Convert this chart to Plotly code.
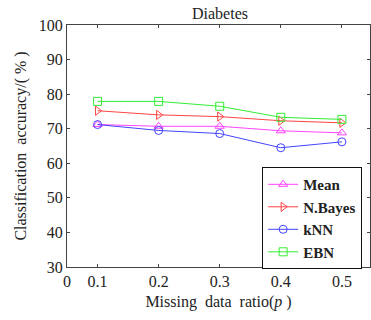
import plotly.graph_objects as go

x_vals = [0.1, 0.2, 0.3, 0.4, 0.5]
mean_acc = [71.2, 70.7, 70.7, 69.4, 68.8]
nbayes_acc = [75.2, 74.0, 73.5, 72.3, 71.7]
knn_acc = [71.2, 69.5, 68.6, 64.5, 66.2]
ebn_acc = [77.9, 77.9, 76.5, 73.3, 72.7]

x_tickvals = [0.05, 0.1, 0.2, 0.3, 0.4, 0.5]
x_ticktext = ["0", "0.1", "0.2", "0.3", "0.4", "0.5"]
y_tickvals = [30, 40, 50, 60, 70, 80, 90, 100]

series = [
    ("Mean", mean_acc, "#ff44ff", "triangle-up-open"),
    ("N.Bayes", nbayes_acc, "#ff4444", "triangle-right-open"),
    ("kNN", knn_acc, "#4444ff", "circle-open"),
    ("EBN", ebn_acc, "#33ee33", "square-open"),
]

font_family = "Times New Roman"

fig = go.Figure()
for name, ys, color, sym in series:
    fig.add_trace(go.Scatter(
        x=x_vals, y=ys, name=name, mode="lines+markers",
        line=dict(color=color, width=1),
        marker=dict(symbol=sym, size=8, color=color, line=dict(width=1, color=color)),
    ))

axis_common = dict(
    showline=True, linecolor="#444", linewidth=1, mirror="ticks",
    ticks="inside", ticklen=3, tickcolor="#444", showgrid=False, zeroline=False,
    tickfont=dict(family=font_family, size=16, color="#222"),
)

fig.update_layout(
    width=371, height=320,
    margin=dict(l=67, r=1, t=25, b=53),
    paper_bgcolor="white", plot_bgcolor="white",
    title=dict(text="Diabetes", x=0.593, xanchor="center", y=0.958, yanchor="middle",
               font=dict(family=font_family, size=16, color="#222")),
    font=dict(family=font_family, color="#222"),
    xaxis=dict(range=[0.05, 0.546], tickvals=x_tickvals, ticktext=x_ticktext,
               title=dict(text="Missing\u00a0\u00a0data\u00a0\u00a0ratio(<i>p</i>\u00a0)", standoff=6,
                          font=dict(family=font_family, size=16, color="#222")),
               **axis_common),
    yaxis=dict(range=[30, 100], tickvals=y_tickvals,
               title=dict(text="Classification\u00a0\u00a0accuracy/(\u00a0%\u00a0)", standoff=8,
                          font=dict(family=font_family, size=16, color="#222")),
               **axis_common),
    legend=dict(x=0.644, y=0.413, xanchor="left", yanchor="top",
                bordercolor="#111", borderwidth=1, bgcolor="white",
                font=dict(family=font_family, size=15, color="#222", weight="bold"),
                tracegroupgap=0, itemwidth=30),
    showlegend=True,
)

fig.write_html("out.html", config={"displayModeBar": False},
               post_script="document.body.style.margin='0';")
